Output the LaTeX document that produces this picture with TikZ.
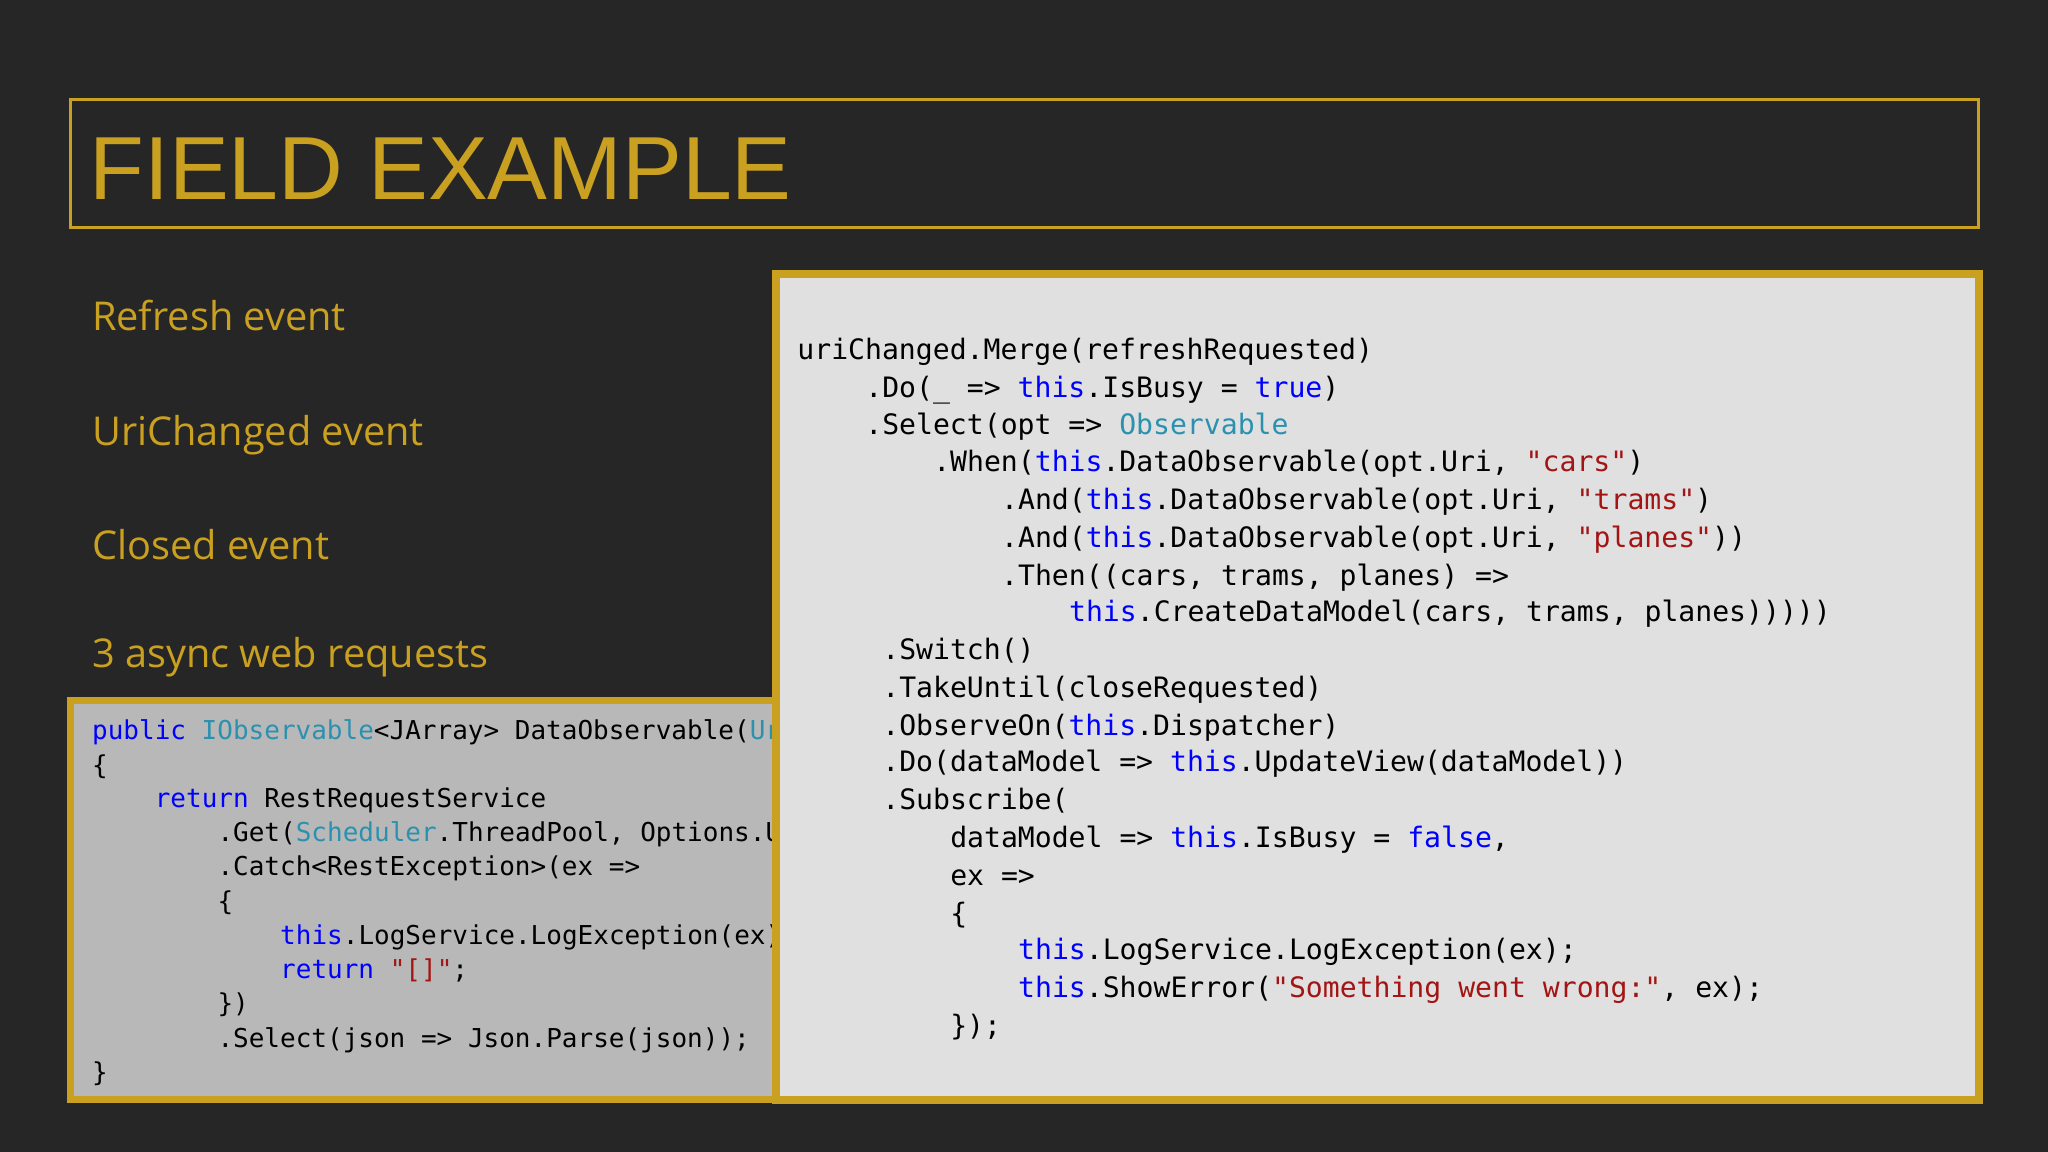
\documentclass[tikz,border=0pt]{standalone}
\usepackage{fontspec}
\setmainfont{Open Sans}
\newfontfamily\titlefont{Liberation Sans}
\newfontfamily\codefont{DejaVu Sans Mono}
\definecolor{bg}{RGB}{38,38,38}
\definecolor{gold}{RGB}{201,160,32}
\definecolor{panelR}{RGB}{224,224,224}
\definecolor{panelL}{RGB}{184,184,184}
\definecolor{kwblue}{RGB}{0,0,255}
\definecolor{tyteal}{RGB}{43,145,175}
\definecolor{strred}{RGB}{163,21,21}
\newcommand{\ckw}[1]{\textcolor{kwblue}{#1}}
\newcommand{\cty}[1]{\textcolor{tyteal}{#1}}
\newcommand{\cst}[1]{\textcolor{strred}{#1}}
\tikzset{
  rcode/.style={anchor=base west,inner sep=0pt,font=\codefont\fontsize{8pt}{10pt}\selectfont,text=black},
  lcode/.style={anchor=base west,inner sep=0pt,font=\codefont\fontsize{7.4pt}{9pt}\selectfont,text=black},
  item/.style={anchor=base west,inner sep=0pt,font=\fontsize{11.3pt}{13pt}\selectfont,text=gold}
}
\begin{document}
\begin{tikzpicture}[x={(0.013061cm,0)},y={(0,-0.013061cm)}]
\fill[bg] (0,0) rectangle (1568,882);
\useasboundingbox (0,0) rectangle (1568,882);
% title
\draw[gold,line width=0.8pt] (54,76) rectangle (1515,174);
\node[anchor=base west,inner sep=0pt,text=gold,font=\titlefont\fontsize{25.5pt}{30pt}\selectfont] (title) at (68,153) {FIELD EXAMPLE};
% items
\node[item] (i1) at (70,253) {Refresh event};
\node[item] (i2) at (70,341) {UriChanged event};
\node[item] (i3) at (70,428) {Closed event};
\node[item] (i4) at (70,511) {3 async web requests};
% left panel
\fill[panelL] (54,536) rectangle (594,842);
\begin{scope}
\clip (54,536) rectangle (594,842);
\foreach \ind/\yy/\txt in {
 0/566/{\ckw{public} \cty{IObservable}<JArray> DataObservable(\cty{Uri} uri)},
 0/593/{\{},
 4/618/{\ckw{return} RestRequestService},
 8/644/{.Get(\cty{Scheduler}.ThreadPool, Options.Uri)},
 8/670/{.Catch<RestException>(ex =>},
 8/697/{\{},
 12/723/{\ckw{this}.LogService.LogException(ex);},
 12/749/{\ckw{return} \cst{"[]"};},
 8/775/{\})},
 8/802/{.Select(json => Json.Parse(json));},
 0/828/{\}}}
  \node[lcode] at (70+12*\ind,\yy) {\txt};
\end{scope}
\draw[gold,line width=2pt] (54,536) rectangle (594,842);
% right panel
\fill[panelR] (594,210) rectangle (1515,842);
\draw[gold,line width=2.2pt] (594,210) rectangle (1515,842);
\foreach \ind/\yy/\txt in {
 0/275/{uriChanged.Merge(refreshRequested)},
 4/304/{.Do(\_ => \ckw{this}.IsBusy = \ckw{true})},
 4/333/{.Select(opt => \cty{Observable}},
 8/361/{.When(\ckw{this}.DataObservable(opt.Uri, \cst{"cars"})},
 12/390/{.And(\ckw{this}.DataObservable(opt.Uri, \cst{"trams"})},
 12/419/{.And(\ckw{this}.DataObservable(opt.Uri, \cst{"planes"}))},
 12/448/{.Then((cars, trams, planes) =>},
 16/476/{\ckw{this}.CreateDataModel(cars, trams, planes)))))},
 5/505/{.Switch()},
 5/534/{.TakeUntil(closeRequested)},
 5/563/{.ObserveOn(\ckw{this}.Dispatcher)},
 5/591/{.Do(dataModel => \ckw{this}.UpdateView(dataModel))},
 5/620/{.Subscribe(},
 9/649/{dataModel => \ckw{this}.IsBusy = \ckw{false},},
 9/678/{ex =>},
 9/707/{\{},
 13/735/{\ckw{this}.LogService.LogException(ex);},
 13/764/{\ckw{this}.ShowError(\cst{"Something went wrong:"}, ex);},
 9/793/{\});}}
  \node[rcode] at (610+13*\ind,\yy) {\txt};
\end{tikzpicture}
\end{document}
